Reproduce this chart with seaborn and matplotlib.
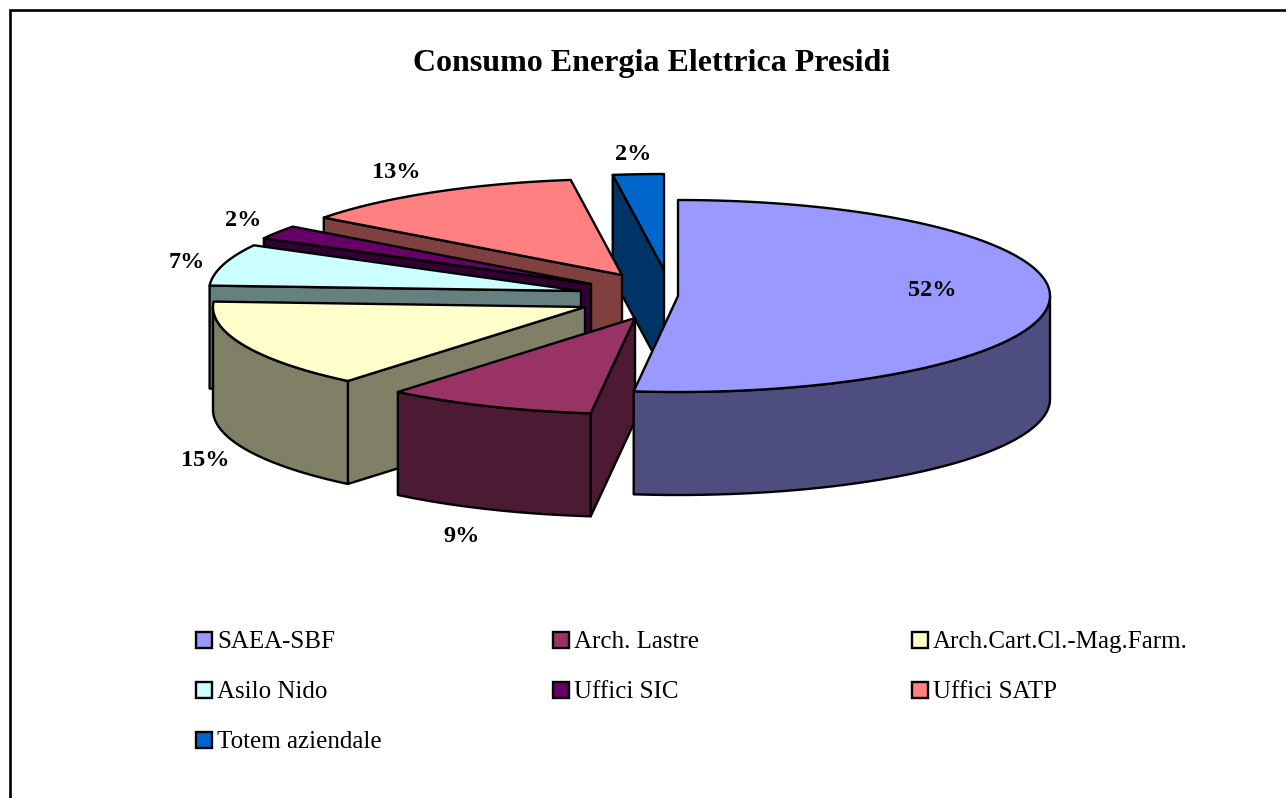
import numpy as np
import matplotlib
matplotlib.use("Agg")
import matplotlib.pyplot as plt
from matplotlib.patches import Rectangle
import seaborn as sns

# data
categories = ["SAEA-SBF", "Arch. Lastre", "Arch.Cart.Cl.-Mag.Farm.", "Asilo Nido",
              "Uffici SIC", "Uffici SATP", "Totem aziendale"]
shares = [51.9, 9.1, 14.9, 7.0, 2.3, 12.6, 2.2]
colors = ["#9999FF", "#993366", "#FFFFCC", "#CCFFFF", "#660066", "#FF8080", "#0066CC"]
title = "Consumo Energia Elettrica Presidi"

# layout, in pixels of the 1286x798 canvas
RX, RY, DEPTH = 372, 96, 103
apex_x = [678, 635, 585, 581, 591, 622, 664]
apex_y = [296, 318, 307, 291, 284, 275, 270]
label_x = [932, 462, 205, 187, 243, 396, 633]
label_y = [290, 536, 461, 262, 221, 172, 155]
legend_x = [196, 553, 912]
legend_y = [640, 690, 740]
LINE = 1.7

sns.set_theme(style="white")
plt.rcParams["font.family"] = ["Liberation Serif", "DejaVu Serif"]
palette = sns.color_palette(colors)


def rim(cx, cy, deg):
    t = np.radians(deg)
    return cx + RX * np.sin(t), cy - RY * np.cos(t)


def draw_poly(ax, xs, ys, color, z):
    ax.fill(xs, ys, facecolor=color, edgecolor="black", linewidth=LINE,
            joinstyle="round", zorder=z)


def draw_slice(ax, cx, cy, a0, a1, color, z):
    dark = tuple(c * 0.5 for c in color)
    mid = (a0 + a1) / 2
    mx, my = rim(0, 0, mid)

    # cut faces: only the ones turned towards the viewer
    for a in (a0, a1):
        dx, dy = rim(0, 0, a)
        side = dx * my - dy * mx
        if abs(dx) > 1e-6 and dx * side < 0:
            ex, ey = rim(cx, cy, a)
            draw_poly(ax, [cx, ex, ex, cx], [cy, ey, ey + DEPTH, cy + DEPTH], dark, z)

    # outer wall, front half of the ellipse only
    lo, hi = max(a0, 90), min(a1, 270)
    if hi > lo:
        wx, wy = rim(cx, cy, np.linspace(lo, hi, 60))
        draw_poly(ax, np.r_[wx, wx[::-1]], np.r_[wy, wy[::-1] + DEPTH], dark, z)

    # top surface
    tx, ty = rim(cx, cy, np.linspace(a0, a1, 120))
    draw_poly(ax, np.r_[cx, tx], np.r_[cy, ty], color, z)


fig = plt.figure(figsize=(12.86, 7.98), dpi=100)
ax = fig.add_axes([0, 0, 1, 1])
ax.set_xlim(0, 1286)
ax.set_ylim(798, 0)
ax.axis("off")

# chart frame, cut by the edge of the picture
ax.plot([9.8, 9.8, 1286], [798, 9.8, 9.8], color="black", linewidth=1.9,
        solid_joinstyle="miter", zorder=1)

ax.text(652, 64, title, ha="center", va="center", fontsize=23, fontweight="bold",
        color="black")

edges = np.r_[0, np.cumsum(shares)] / np.sum(shares) * 360
order = range(len(shares) - 1, -1, -1)  # back to front
for rank, i in enumerate(order):
    draw_slice(ax, apex_x[i], apex_y[i], edges[i], edges[i + 1], palette[i], 2 + rank)

for i, share in enumerate(shares):
    ax.text(label_x[i], label_y[i], f"{share:.0f}%", ha="center", va="center",
            fontsize=17.5, fontweight="bold", color="black", zorder=20)

for i, name in enumerate(categories):
    row, col = divmod(i, 3)
    ax.add_patch(Rectangle((legend_x[col], legend_y[row] - 8), 16, 16, facecolor=palette[i],
                           edgecolor="black", linewidth=LINE, zorder=20))
    ax.text(legend_x[col] + 21, legend_y[row] + 2, name, ha="left", va="center",
            fontsize=18, color="black", zorder=20)

fig.savefig("out.png", dpi=100)
